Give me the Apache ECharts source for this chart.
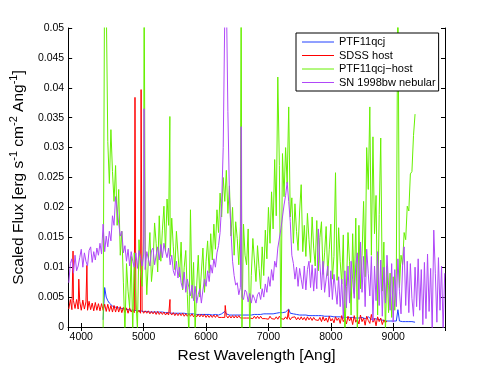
<!DOCTYPE html>
<html>
<head>
<meta charset="utf-8">
<script src="https://cdn.jsdelivr.net/npm/echarts@6/dist/echarts.min.js"></script>
<style>
  html, body { margin: 0; padding: 0; background: #fff; }
  #chart { width: 491px; height: 369px; }
</style>
</head>
<body>
<div id="chart"></div>
<script>
// flux values are in units of 1e-3 erg s^-1 cm^-2 Ang^-1, sampled every 25 Ang
const STEP = 25

// PTF11qcj (4350 - 9350)
const blueStart = 4350
const blueFlux = [
  1.2,6.6,5.0,4.4,4.0,3.7,3.5,3.4,3.3,3.2,3.2,3.1,3.1,3.0,3.0,2.9,2.9,2.9,2.8,2.8,
  2.8,2.7,2.7,2.7,2.7,2.6,2.6,2.6,2.6,2.6,2.5,2.6,2.5,2.5,2.5,2.5,2.5,2.4,2.5,2.4,
  2.4,2.4,2.4,2.4,2.3,2.4,2.3,2.3,2.3,2.3,2.3,2.2,2.3,2.2,2.2,2.2,2.2,2.2,2.2,2.2,
  2.1,2.2,2.1,2.1,2.1,2.1,2.1,2.1,2.1,2.1,2.0,2.1,2.1,2.1,2.0,2.1,2.2,2.3,2.6,2.2,
  2.1,2.0,2.0,2.0,2.0,2.0,2.0,2.0,2.0,2.0,2.0,2.0,2.0,2.0,2.1,2.0,2.1,2.1,2.1,2.1,
  2.1,2.1,2.1,2.2,2.1,2.2,2.2,2.2,2.3,2.2,2.3,2.3,2.3,2.4,2.4,2.4,2.4,2.5,2.5,3.0,
  2.3,2.2,2.2,2.1,2.1,2.1,2.0,2.0,2.0,2.0,2.0,1.9,1.9,2.0,1.9,1.9,1.9,1.9,1.9,1.8,
  1.9,1.8,1.8,1.8,1.8,1.8,1.8,1.7,1.7,1.7,1.7,1.7,1.7,1.6,1.6,1.6,1.6,1.6,1.6,1.5,
  1.6,1.5,1.5,1.5,1.5,1.4,1.6,1.8,1.4,1.5,1.7,1.4,1.3,1.6,1.4,1.3,1.3,1.4,1.2,1.2,
  1.1,1.1,1.0,1.0,1.0,1.0,1.0,1.0,1.0,2.9,1.0,0.9,0.9,0.9,0.9,0.9,0.9,0.9,0.9,0.9,
  0.8
]
const blueSpikes = []

// SDSS host (3800 - 8900)
const redStart = 3800
const redFlux = [
  3.0,4.6,2.9,4.4,3.1,4.6,3.0,4.3,2.8,4.5,3.0,4.2,2.8,4.3,2.9,4.0,2.7,4.1,2.8,3.9,
  2.7,3.9,2.8,3.8,2.6,3.8,2.6,3.6,2.5,3.6,2.5,3.5,2.5,3.4,2.4,3.3,2.4,3.2,2.3,3.2,
  2.5,2.9,2.4,2.9,2.4,2.8,2.3,2.8,2.3,2.7,2.3,2.7,2.2,2.6,2.2,2.6,2.1,2.6,2.1,2.5,
  2.1,2.5,2.0,2.4,2.0,2.4,2.0,2.4,1.9,2.3,1.9,2.3,1.9,2.3,1.8,2.2,1.8,2.2,1.8,2.2,
  1.7,2.1,1.7,2.1,1.7,2.1,1.7,2.1,1.6,2.0,1.6,2.0,1.6,2.0,1.6,2.0,1.6,1.9,1.6,1.9,
  1.6,1.9,1.5,1.9,1.5,1.9,1.5,1.9,1.5,1.9,1.5,1.8,1.5,1.8,1.5,1.8,1.5,1.8,1.4,1.8,
  1.4,1.8,1.4,1.8,1.4,1.7,1.4,1.7,1.3,1.8,1.4,1.7,1.3,1.7,1.3,1.8,1.4,1.7,1.3,1.7,
  1.3,1.7,1.2,1.6,1.3,1.7,1.2,1.6,1.2,1.7,1.2,1.6,1.1,1.7,1.2,1.6,1.1,1.6,1.2,1.5,
  1.1,1.6,0.9,1.7,1.0,1.5,0.8,1.8,1.0,1.4,0.7,1.7,1.1,1.5,0.6,1.9,0.9,1.4,0.5,1.8,
  1.0,1.6,0.4,1.9,0.8,1.3,0.5,2.0,0.9,1.5,0.3,1.8,1.1,0.6,2.1,0.8,1.4,0.2,1.7,0.9,
  1.5,0.4,1.2,0.7,1.0
]
// narrow emission lines: [wavelength, flux]
const redSpikes = [[3868,12.7],[3960,8.0],[4090,10.3],[4861,38.4],[4959,39.7],[5422,4.6],[6307,3.6],[7323,2.9]]

// PTF11qcj - host (4350 - 9350)
const greenStart = 4350
const greenFlux = [
  -1.0,62,55,31,24,33,26,21,27,17,23,12,16,7.5,-1.0,10.6,6.0,3.2,11.8,-0.8,
  12.4,4.6,-0.5,14.6,9.0,6.8,15.2,13.0,5.4,11.2,15.8,7.6,10.4,17.4,14.0,9.2,18.6,11.0,16.2,20.2,
  12.6,21.4,17.0,11.8,18.2,13.4,9.6,16.0,12.2,8.4,14.2,6.2,10.0,12.8,5.4,-1.5,19.6,4.8,10.8,-0.8,
  7.0,12.0,5.0,9.2,13.2,5.8,11.0,14.4,9.0,15.6,11.2,17.2,13.0,19.6,15.8,22.4,18.4,25.0,21.0,26.2,
  19.0,23.6,15.2,20.0,12.0,17.6,14.8,10.4,16.8,-1.2,17.2,12.0,10.4,16.4,-1.0,8.6,14.8,11.2,7.6,13.6,
  9.8,6.4,13.4,8.6,16.2,11.4,20.0,14.0,22.6,16.4,28.0,18.6,41.8,27.0,-1.0,29.0,21.8,30.0,24.0,36.8,
  18.4,21.6,14.0,20.6,16.0,12.8,19.4,23.8,12.6,17.0,11.8,19.0,14.6,10.8,18.4,13.2,10.2,17.8,9.4,15.0,
  17.6,8.8,12.4,16.8,8.6,13.0,17.2,8.0,11.8,25.8,7.8,16.6,11.0,7.2,15.4,-1.5,6.8,15.8,11.0,2.0,
  15.6,5.6,18.2,-1.0,17.0,6.4,12.0,21.0,8.4,30.0,23.0,36.8,12.0,31.8,15.6,22.0,2.0,18.8,31.6,6.0,
  14.2,-1.0,10.2,2.4,9.0,1.6,8.4,2.8,9.2,60,6.6,12.0,10.4,15.8,14.6,20.2,19.4,25.6,26.0,32.0,
  35.6
]
const greenSpikes = [[5007,60],[5420,35.2],[6563,60]]

// SN 1998bw nebular (3800 - 9825)
const purpleStart = 3800
const purpleFlux = [
  7.4,10.6,11.4,9.0,12.0,9.4,10.2,11.6,13.0,10.0,12.4,11.0,10.2,12.8,13.4,10.8,12.6,11.2,13.2,12.0,
  14.0,12.2,17.2,12.6,15.2,13.4,16.0,14.4,18.6,17.0,21.8,19.6,19.4,15.2,16.0,12.4,13.6,11.0,13.0,10.2,
  12.6,11.0,10.0,12.4,9.8,12.8,11.6,10.2,12.2,9.6,12.6,11.4,10.2,12.8,13.2,10.4,12.0,13.4,11.2,13.8,
  11.6,14.0,12.6,11.6,13.2,10.4,12.0,9.4,8.6,11.0,8.2,10.0,7.4,6.4,9.2,5.8,8.0,6.6,5.2,7.0,
  4.4,6.8,4.0,5.4,6.4,4.0,6.2,8.0,6.8,9.4,7.6,10.4,9.0,11.4,10.0,12.4,13.6,15.8,20.6,30.0,
  52.0,56.0,36.0,22.0,16.0,11.0,8.6,7.0,7.4,5.4,6.6,5.0,4.6,6.2,5.8,4.2,5.6,4.0,5.4,4.8,
  4.0,5.4,5.8,4.6,6.4,5.0,7.2,5.8,8.4,6.8,9.6,7.8,11.0,10.0,13.2,13.0,16.4,16.2,20.4,22.0,
  24.2,21.0,17.6,12.0,10.6,8.0,10.0,6.8,9.8,8.0,6.4,10.2,6.2,9.6,11.0,6.6,10.4,6.0,9.8,6.4,
  16.4,10.6,6.2,11.0,5.8,8.0,10.2,5.0,9.4,4.6,8.8,6.2,3.8,8.4,3.4,8.0,1.4,9.4,3.2,10.2,
  4.0,11.0,8.0,4.8,10.4,12.4,4.6,14.2,5.8,11.8,3.4,13.0,9.0,5.2,11.8,1.0,10.2,4.4,12.6,3.6,
  11.2,1.8,10.0,4.0,12.0,7.0,2.8,10.6,0.8,9.6,3.4,11.4,6.0,2.2,10.2,13.4,3.6,11.0,2.4,10.6,
  4.8,1.8,10.0,3.4,11.4,2.8,9.6,0.4,10.8,1.4,12.2,2.6,9.8,-0.5,16.2,9.0,0.8,11.6,2.8,10.2,
  -0.6,9.0
]
const purpleSpikes = [[5007,36.5],[6563,33.5]]

const seriesNames = ['PTF11qcj', 'SDSS host', 'PTF11qcj\u2212host', 'SN 1998bw nebular']
const seriesColors = ['#2040ff', '#ff0000', '#66f000', '#b048f8']

// grid samples + narrow lines, sorted by wavelength
function buildSpectrum(start, flux, spikes) {
  const pts = flux.map((v, i) => [start + i * STEP, v * 1e-3])
  spikes.forEach(s => pts.push([s[0], s[1] * 1e-3]))
  pts.sort((a, b) => a[0] - b[0])
  return pts
}

const spectra = [
  buildSpectrum(blueStart, blueFlux, blueSpikes),
  buildSpectrum(redStart, redFlux, redSpikes),
  buildSpectrum(greenStart, greenFlux, greenSpikes),
  buildSpectrum(purpleStart, purpleFlux, purpleSpikes)
]

const font = 'Liberation Sans, Arial, Helvetica, sans-serif'
const tickFont = { color: '#000', fontSize: 10.5, fontFamily: font }

const chart = echarts.init(document.getElementById('chart'), null, { renderer: 'canvas' })

chart.setOption({
  animation: false,
  backgroundColor: '#fff',
  grid: { left: 64, right: 46, top: 28, bottom: 42, containLabel: false },
  legend: {
    orient: 'vertical',
    left: 296,
    top: 33,
    data: seriesNames,
    itemWidth: 32,
    itemHeight: 11,
    itemGap: 2.5,
    padding: [3.5, 3, 3, 5.5],
    backgroundColor: '#fff',
    borderColor: '#000',
    borderWidth: 1,
    borderRadius: 0,
    // hide the marker, keep only the line
    itemStyle: { color: 'rgba(0,0,0,0)', borderWidth: 0, opacity: 0 },
    lineStyle: { width: 1 },
    textStyle: { color: '#000', fontSize: 11, fontFamily: font }
  },
  xAxis: [
    {
      type: 'value', min: 3790, max: 9830, position: 'bottom',
      name: 'Rest Wavelength [Ang]',
      nameLocation: 'middle',
      nameGap: 17,
      nameTextStyle: { color: '#000', fontSize: 15.5, fontFamily: font },
      axisLine: { lineStyle: { color: '#000', width: 1 } },
      axisTick: { inside: true, length: 4, lineStyle: { color: '#000' } },
      axisLabel: Object.assign({
        margin: 5, showMinLabel: false, showMaxLabel: false,
        formatter: v => String(v)
      }, tickFont),
      splitLine: { show: false }
    },
    {
      type: 'value', min: 3790, max: 9830, position: 'top',
      axisLine: { lineStyle: { color: '#000', width: 1 } },
      axisTick: { inside: true, length: 4, lineStyle: { color: '#000' } },
      axisLabel: { show: false },
      splitLine: { show: false }
    }
  ],
  yAxis: [
    {
      type: 'value', min: 0, max: 0.05, interval: 0.005, position: 'left',
      name: '{n|Scaled Flux [erg s}{s|-1}{n| cm}{s|-2}{n| Ang}{s|-1}{n|]}',
      nameLocation: 'middle',
      nameGap: 35,
      nameTextStyle: {
        color: '#000', fontFamily: font,
        rich: {
          n: { fontSize: 15.5, lineHeight: 22, fontFamily: font, color: '#000' },
          s: { fontSize: 11, lineHeight: 11, verticalAlign: 'top', fontFamily: font, color: '#000' }
        }
      },
      axisLine: { show: true, lineStyle: { color: '#000', width: 1 } },
      axisTick: { show: true, inside: true, length: 4, lineStyle: { color: '#000' } },
      axisLabel: Object.assign({ margin: 4 }, tickFont),
      splitLine: { show: false }
    },
    {
      type: 'value', min: 0, max: 0.05, interval: 0.005, position: 'right',
      axisLine: { show: true, lineStyle: { color: '#000', width: 1 } },
      axisTick: { show: true, inside: true, length: 4, lineStyle: { color: '#000' } },
      axisLabel: { show: false },
      splitLine: { show: false }
    }
  ],
  series: spectra.map((d, i) => ({
    name: seriesNames[i],
    type: 'line',
    xAxisIndex: 0,
    yAxisIndex: 0,
    data: d,
    symbol: 'none',
    clip: true,
    color: seriesColors[i],
    lineStyle: { color: seriesColors[i], width: 1 }
  }))
})
</script>
</body>
</html>
